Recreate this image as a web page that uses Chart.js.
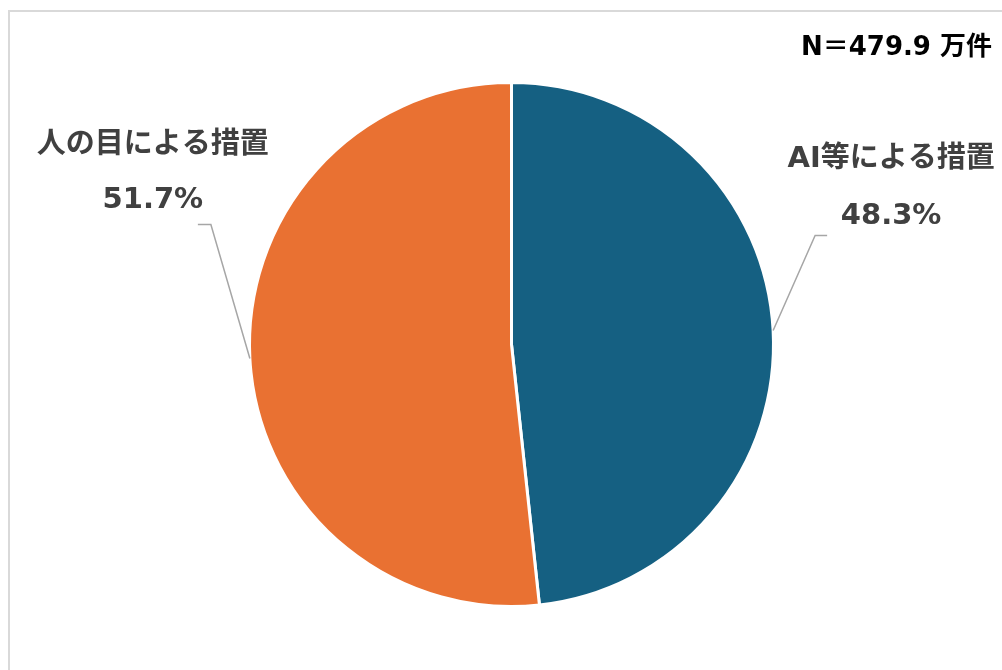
<!DOCTYPE html>
<html lang="ja">
<head>
<meta charset="utf-8">
<title>措置の内訳</title>
<script src="https://cdn.jsdelivr.net/npm/chart.js@4.4.1/dist/chart.umd.min.js"></script>
<style>
    html, body { margin: 0; padding: 0; background: #fff; overflow: hidden; }
    #wrap { position: relative; width: 1002px; height: 670px; }
    #frame {
        position: absolute; left: 8px; top: 10px;
        width: 1100px; height: 760px;
        border: 2px solid #d9d9d9; box-sizing: border-box;
    }
    #chartBox { position: absolute; left: 0; top: 0; width: 1002px; height: 670px; }
</style>
</head>
<body>
<div id="wrap">
    <div id="frame"></div>
    <div id="chartBox"><canvas id="pieChart"></canvas></div>
</div>
<script>
// Share of takedown measures by method
const categories = ['AI等による措置', '人の目による措置'];
const shares = [48.3, 51.7];
const sliceColors = ['#156082', '#E97132'];
const totalLabel = 'N＝479.9 万件';

// Callout placement relative to the slice mid-point on the rim
const callouts = [
    { elbowDx: 42, elbowDy: -95, tailDx: 54, textDx: 118, pctDy: -114, nameDy: -171 },
    { elbowDx: -39, elbowDy: -134, tailDx: -52, textDx: -97, pctDy: -158, nameDy: -213 }
];

const labelFont = 'bold 29px "DejaVu Sans", "Noto Sans CJK JP", sans-serif';

const calloutPlugin = {
    id: 'callouts',
    afterDatasetsDraw(chart) {
        const ctx = chart.ctx;
        const arcs = chart.getDatasetMeta(0).data;
        ctx.save();
        arcs.forEach((arc, i) => {
            const mid = (arc.startAngle + arc.endAngle) / 2;
            const ax = arc.x + Math.cos(mid) * arc.outerRadius;
            const ay = arc.y + Math.sin(mid) * arc.outerRadius;
            const c = callouts[i];

            // leader line
            ctx.strokeStyle = '#a6a6a6';
            ctx.lineWidth = 1.5;
            ctx.beginPath();
            ctx.moveTo(ax, ay);
            ctx.lineTo(ax + c.elbowDx, ay + c.elbowDy);
            ctx.lineTo(ax + c.tailDx, ay + c.elbowDy);
            ctx.stroke();

            // category name and percentage
            ctx.fillStyle = '#404040';
            ctx.font = labelFont;
            ctx.textAlign = 'center';
            ctx.textBaseline = 'middle';
            ctx.fillText(categories[i], ax + c.textDx, ay + c.nameDy);
            ctx.fillText(shares[i].toFixed(1) + '%', ax + c.textDx, ay + c.pctDy);
        });

        // sample size note
        ctx.fillStyle = '#000';
        ctx.font = 'bold 26px "DejaVu Sans", "Noto Sans CJK JP", sans-serif';
        ctx.textAlign = 'right';
        ctx.textBaseline = 'middle';
        ctx.fillText(totalLabel, chart.width - 10, 48);
        ctx.restore();
    }
};

const pieChart = new Chart(document.getElementById('pieChart').getContext('2d'), {
    type: 'pie',
    data: {
        labels: categories,
        datasets: [{
            data: shares,
            backgroundColor: sliceColors,
            borderColor: '#ffffff',
            borderWidth: 3
        }]
    },
    options: {
        responsive: true,
        maintainAspectRatio: false,
        animation: false,
        layout: {
            padding: { left: 248, right: 227, top: 81, bottom: 62 }
        },
        plugins: {
            legend: { display: false },
            tooltip: { enabled: false }
        }
    },
    plugins: [calloutPlugin]
});
</script>
</body>
</html>
